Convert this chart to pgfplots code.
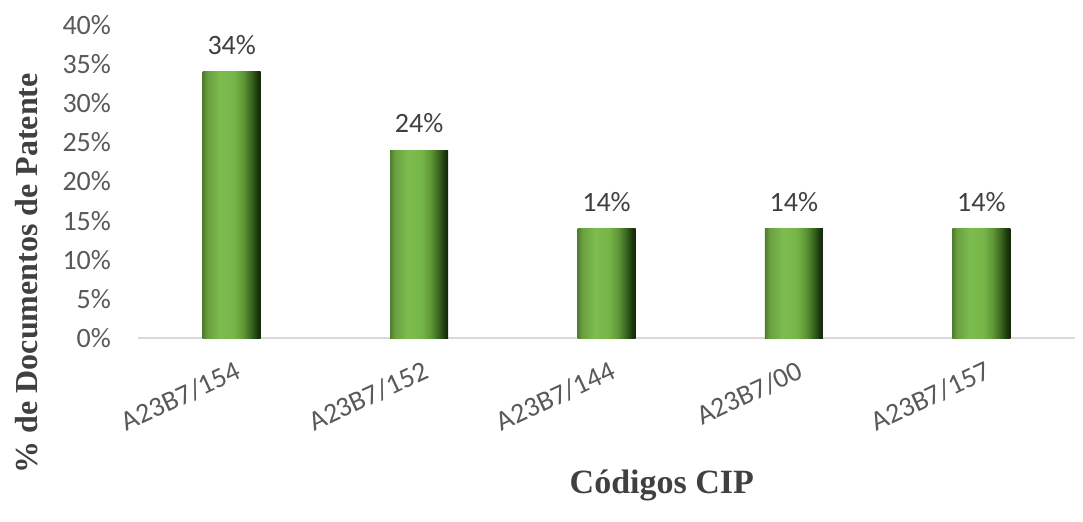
\documentclass[border=0pt]{standalone}
\usepackage{pgfplots}
\pgfplotsset{compat=1.18}
\usepackage{fontspec}
\setmainfont{Carlito}
\newfontfamily\labfont{Liberation Serif}
\definecolor{tickgrey}{RGB}{89,89,89}
\definecolor{labgrey}{RGB}{64,64,64}

% bevelled look of the bars: light in the middle, dark on the right
\pgfdeclarehorizontalshading{barshade}{100bp}{
  color(0bp)=(rgb,255:red,80;green,125;blue,45);
  color(25bp)=(rgb,255:red,80;green,125;blue,45);
  color(29bp)=(rgb,255:red,105;green,160;blue,65);
  color(40bp)=(rgb,255:red,125;green,188;blue,78);
  color(52bp)=(rgb,255:red,118;green,182;blue,72);
  color(60bp)=(rgb,255:red,95;green,150;blue,55);
  color(67bp)=(rgb,255:red,55;green,100;blue,30);
  color(72bp)=(rgb,255:red,28;green,55;blue,14);
  color(75bp)=(rgb,255:red,18;green,38;blue,8);
  color(100bp)=(rgb,255:red,18;green,38;blue,8)}

\pgfplotsset{
  greenbar/.style={ybar, bar width=29pt, bar shift=0pt, draw=none,
    shade, shading=barshade,
    nodes near coords={\pgfmathprintnumber{\pgfplotspointmeta}\%},
    nodes near coords style={font=\fontsize{14}{16}\selectfont, text=labgrey, yshift=5pt}},
}

\begin{document}
\begin{tikzpicture}[x=1pt,y=1pt]
\begin{axis}[
  scale only axis,
  width=468.5pt, height=156.5pt,
  xmin=-0.5, xmax=4.5,
  ymin=0, ymax=40,
  axis x line*=bottom,
  axis y line*=left,
  x axis line style={draw=black!15, line width=0.8pt, -},
  y axis line style={draw=none},
  xtick={0,1,2,3,4},
  xticklabels={A23B7/154,A23B7/152,A23B7/144,A23B7/00,A23B7/157},
  xtick style={draw=none},
  xticklabel style={rotate=25, anchor=north east, font=\fontsize{14}{16}\selectfont, text=tickgrey, yshift=-7pt, xshift=0pt},
  ytick={0,5,...,40},
  yticklabel={\pgfmathprintnumber{\tick}\%},
  yticklabel style={font=\fontsize{14}{16}\selectfont, text=tickgrey, xshift=-10pt},
  /pgf/number format/assume math mode=true,
  ytick style={draw=none},
  xlabel={\labfont\bfseries Códigos CIP},
  xlabel style={at={(axis description cs:0.559,-0.472)}, anchor=center, font=\fontsize{17}{19}\selectfont, text=labgrey},
  ylabel={\labfont\bfseries \% de Documentos de Patente},
  ylabel style={at={(axis description cs:-0.119,0.207)}, anchor=center, rotate=0, font=\fontsize{16}{18}\selectfont, text=labgrey},
  clip=false,
]
\addplot[greenbar] coordinates {(0,34)};
\addplot[greenbar] coordinates {(1,24)};
\addplot[greenbar] coordinates {(2,14)};
\addplot[greenbar] coordinates {(3,14)};
\addplot[greenbar] coordinates {(4,14)};
\coordinate (bl) at (axis description cs:-0.1473,-0.5847);
\coordinate (tr) at (axis description cs:1.0085,1.0799);
\end{axis}
\path (bl) rectangle (tr);
\end{tikzpicture}
\end{document}
